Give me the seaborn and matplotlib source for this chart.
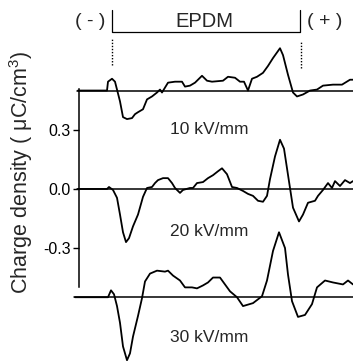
# Space charge profiles in EPDM at three poling fields
import matplotlib
matplotlib.use("Agg")

import numpy as np
import pandas as pd
import matplotlib.pyplot as plt
import seaborn as sns

# position across the sample (arbitrary units), electrodes at 112 and 300
electrode_neg = 112
electrode_pos = 300

# charge density (uC/cm3) at 10 kV/mm
x_10 = [78, 107, 108, 112, 115, 117, 120, 123, 127, 132, 135, 138, 143, 147, 152, 157,
        160, 162, 165, 168, 175, 182, 185, 190, 195, 202, 207, 212, 223, 228, 235, 240,
        244, 248, 252, 257, 263, 268, 273, 280, 283, 288, 293, 297, 303, 310, 317, 323,
        333, 342, 350, 353]
rho_10 = [0.0, 0.0, 0.045, 0.06, 0.045, 0.005, -0.055, -0.135, -0.145, -0.14, -0.12,
          -0.11, -0.095, -0.045, -0.03, -0.01, 0.005, -0.01, 0.015, 0.04, 0.045, 0.045,
          0.02, 0.025, 0.04, 0.075, 0.05, 0.045, 0.05, 0.07, 0.065, 0.045, 0.045, 0.0,
          0.06, 0.07, 0.09, 0.125, 0.165, 0.215, 0.18, 0.08, -0.01, -0.03, -0.02, 0.0,
          0.005, 0.025, 0.03, 0.03, 0.055, 0.055]

# charge density at 20 kV/mm
x_20 = [78, 107, 109, 113, 117, 120, 123, 126, 129, 133, 138, 143, 147, 152, 155, 158,
        163, 168, 172, 175, 180, 183, 190, 193, 197, 203, 208, 213, 218, 222, 227, 232,
        237, 243, 248, 253, 258, 263, 267, 270, 275, 280, 284, 287, 290, 293, 299, 303,
        308, 315, 318, 323, 328, 332, 335, 340, 345, 350, 353]
rho_20 = [0.0, 0.0, 0.01, -0.005, -0.045, -0.13, -0.22, -0.27, -0.25, -0.19, -0.13,
          -0.04, 0.005, 0.01, 0.03, 0.045, 0.055, 0.055, 0.03, 0.005, -0.02, -0.005,
          0.005, 0.005, 0.03, 0.035, 0.055, 0.07, 0.09, 0.105, 0.075, 0.01, 0.005, -0.01,
          -0.025, -0.035, -0.06, -0.065, -0.035, 0.05, 0.165, 0.25, 0.205, 0.105, 0.005,
          -0.095, -0.165, -0.13, -0.07, -0.06, -0.035, -0.005, 0.03, 0.005, 0.04, 0.015,
          0.045, 0.03, 0.04]

# charge density at 30 kV/mm
x_30 = [75, 108, 111, 114, 117, 120, 123, 127, 130, 133, 138, 142, 145, 150, 157, 165,
        168, 173, 180, 185, 192, 197, 203, 208, 213, 220, 230, 237, 243, 253, 262, 267,
        273, 279, 285, 288, 292, 298, 305, 312, 317, 325, 333, 343, 348, 353]
rho_30 = [0.0, 0.0, 0.035, 0.015, -0.045, -0.13, -0.25, -0.32, -0.285, -0.2, -0.095,
          -0.005, 0.08, 0.12, 0.135, 0.13, 0.135, 0.11, 0.085, 0.05, 0.05, 0.045, 0.06,
          0.075, 0.1, 0.1, 0.03, 0.0, -0.045, -0.03, 0.005, 0.085, 0.235, 0.33, 0.25,
          0.115, -0.02, -0.1, -0.09, -0.035, 0.05, 0.085, 0.075, 0.065, 0.085, 0.065]

fields = ["10 kV/mm", "20 kV/mm", "30 kV/mm"]
offsets = [0.5, 0.0, -0.55]
label_y = [0.30, -0.218, -0.757]
yticks = [-0.3, 0.0, 0.3]

sns.set_theme(style="white")
plt.rcParams["font.family"] = ["Liberation Sans", "DejaVu Sans"]
plt.rcParams["mathtext.default"] = "regular"

fig = plt.figure(figsize=(3.53, 3.61), dpi=100)
ax = fig.add_axes([0, 0, 1, 1])

curves = [(x_10, rho_10), (x_20, rho_20), (x_30, rho_30)]
starts = [77, 77, 74]
for (xs, ys), off, name, ly, x0 in zip(curves, offsets, fields, label_y, starts):
    df = pd.DataFrame({"pos": xs, "rho": np.array(ys) + off})
    ax.plot([x0, 353], [off, off], color="black", lw=1.1)
    sns.lineplot(data=df, x="pos", y="rho", ax=ax, color="black", lw=1.3,
                 estimator=None, sort=False)
    ax.text(209, ly, name, ha="center", va="center", fontsize=12.5)

# electrode bracket and markers
ax.plot([electrode_neg, electrode_neg, electrode_pos, electrode_pos],
        [0.91, 0.795, 0.795, 0.91], color="black", lw=0.9)
ax.plot([electrode_neg, electrode_neg], [0.63, 0.767], color="black", lw=1, ls=(0, (1, 1.2)))
ax.plot([electrode_pos + 1, electrode_pos + 1], [0.615, 0.752], color="black", lw=1,
        ls=(0, (1, 1.2)))
ax.text(204, 0.85, "EPDM", ha="center", va="center", fontsize=14.5)
ax.text(90, 0.85, "( - )", ha="center", va="center", fontsize=14)
ax.text(325, 0.85, "( + )", ha="center", va="center", fontsize=14)

ax.set_xlim(0, 353)
ax.set_ylim(-0.874, 0.96)
for s in ["top", "right", "bottom"]:
    ax.spines[s].set_visible(False)
ax.spines["left"].set_position(("data", 79))
ax.spines["left"].set_bounds(-0.5, 0.51)
ax.spines["left"].set_color("black")
ax.spines["left"].set_linewidth(1.1)
ax.set_yticks(yticks)
ax.set_yticklabels(["-0.3", "0.0", "0.3"])
ax.tick_params(axis="y", direction="out", length=4, width=1, labelsize=11.5, pad=2,
               left=True, colors="black")
ax.set_xticks([])
ax.set_xlabel("")
ax.set_ylabel("")
fig.text(0.06, 0.522, "Charge density ( μC/cm$^3$)", rotation=90, ha="center",
         va="center", fontsize=15.5)

fig.savefig("out.png", dpi=100)
